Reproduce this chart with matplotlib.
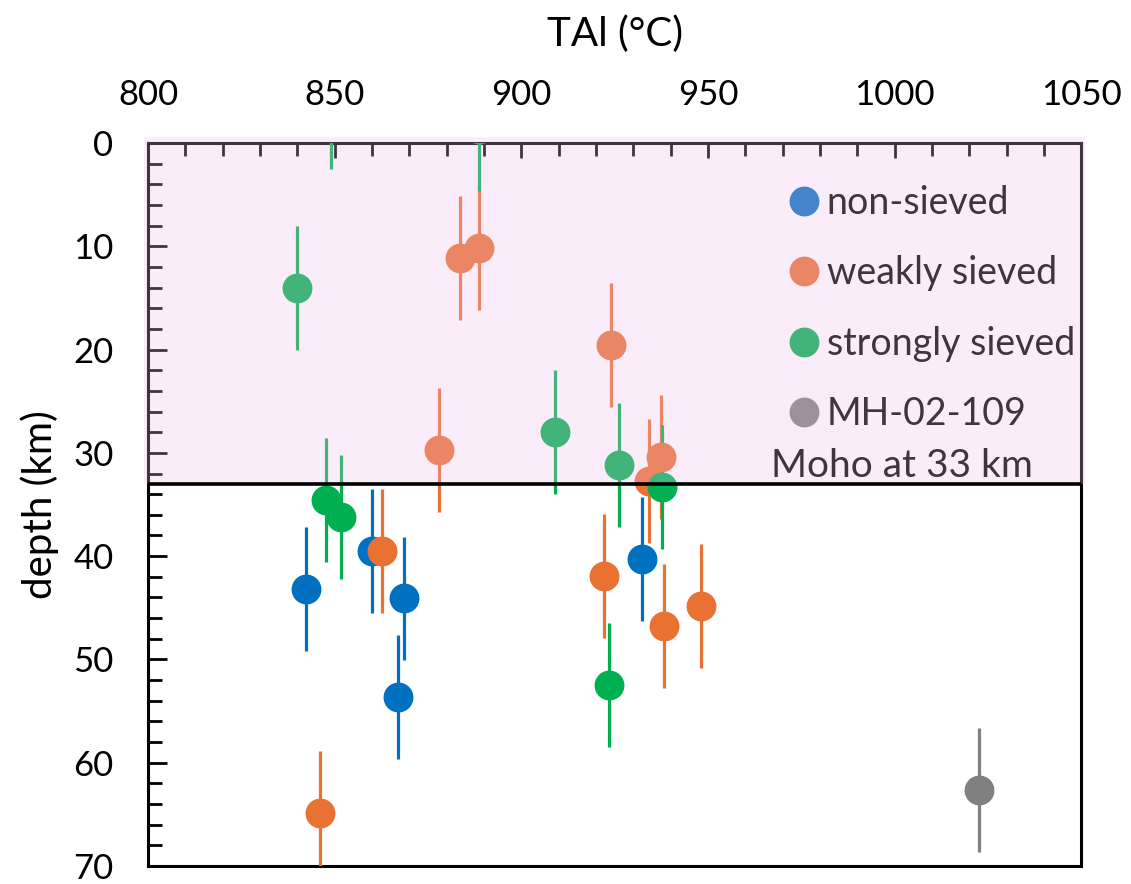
import matplotlib
matplotlib.use("Agg")
import matplotlib.pyplot as plt
from matplotlib.lines import Line2D
from matplotlib.patches import Rectangle
from matplotlib.ticker import MultipleLocator

plt.rcParams['font.family'] = ['Lato', 'DejaVu Sans']

# data: TAl (degC), depth (km), +/- error (km)
non_T = [842.3, 860.0, 868.6, 867.0, 932.3]
non_d = [43.2, 39.5, 44.1, 53.6, 40.3]
non_e = [6, 6, 6, 6, 6]

weak_T = [883.6, 888.6, 878.0, 924.0, 937.4, 934.2, 862.7, 846.0, 922.1, 938.2, 948.1]
weak_d = [11.1, 10.2, 29.7, 19.6, 30.4, 32.7, 39.5, 64.9, 41.9, 46.8, 44.8]
weak_e = [6, 6, 6, 6, 6, 6, 6, 6, 6, 6, 6]

strong_T = [840.0, 849.0, 888.6, 909.0, 926.1, 937.6, 847.7, 851.7, 923.4]
strong_d = [14.0, -3.5, -1.4, 28.0, 31.2, 33.3, 34.6, 36.2, 52.5]
strong_e = [6, 6, 6, 6, 6, 6, 6, 6, 6]

mh_T = [1022.6]
mh_d = [62.6]
mh_e = [6]

moho_depth = 33

groups = [
    ("non-sieved", non_T, non_d, non_e, "#0070C0"),
    ("weakly sieved", weak_T, weak_d, weak_e, "#E97132"),
    ("strongly sieved", strong_T, strong_d, strong_e, "#00B050"),
    ("MH-02-109", mh_T, mh_d, mh_e, "#808080"),
]

fig = plt.figure(figsize=(11.31, 8.84), dpi=100)
ax = fig.add_axes([0.131, 0.0204, 0.825, 0.8178])

handles = []
for name, T, d, e, col in groups:
    ax.errorbar(T, d, yerr=e, fmt='o', color=col, ms=20.5, mec=col,
                elinewidth=2.3, capsize=0, zorder=3, clip_on=True)
    handles.append(Line2D([], [], ls='none', marker='o', ms=20.5, color=col, label=name))

ax.set_xlim(800, 1050)
ax.set_ylim(70, 0)
ax.xaxis.set_major_locator(MultipleLocator(50))
ax.xaxis.set_minor_locator(MultipleLocator(10))
ax.yaxis.set_major_locator(MultipleLocator(10))
ax.yaxis.set_minor_locator(MultipleLocator(2))
ax.xaxis.tick_top()
ax.xaxis.set_label_position('top')
ax.tick_params(axis='x', which='both', direction='in', labelsize=25, pad=23, width=2)
ax.tick_params(axis='x', which='major', length=11)
ax.tick_params(axis='x', which='minor', length=9)
ax.tick_params(axis='y', which='both', direction='in', labelsize=25, pad=25, width=2)
ax.tick_params(axis='y', which='major', length=14)
ax.tick_params(axis='y', which='minor', length=10)
for s in ax.spines.values():
    s.set_linewidth(2.2)

ax.set_xlabel('TAl (°C)', fontsize=29, labelpad=24)
ax.set_ylabel('depth (km)', fontsize=29, labelpad=10)

leg = ax.legend(handles=handles, loc='upper left', bbox_to_anchor=(0.685, 0.942),
                frameon=False, fontsize=27, handlelength=0.9, handletextpad=0.15,
                labelspacing=0.92, borderpad=0, borderaxespad=0)
leg.set_zorder(3)
ax.text(0.667, moho_depth - 0.7, 'Moho at 33 km', transform=ax.get_yaxis_transform(),
        fontsize=28, ha='left', va='baseline', zorder=3)

# pink crust band drawn over everything above the Moho
ax.add_patch(Rectangle((-0.004, -0.6), 1.008, moho_depth + 0.6,
                       transform=ax.get_yaxis_transform(), facecolor='#EFBEE6',
                       alpha=0.28, edgecolor='none', zorder=6, clip_on=False))
ax.axhline(moho_depth, color='black', lw=2.6, zorder=7)

fig.savefig('out.png', dpi=100)
